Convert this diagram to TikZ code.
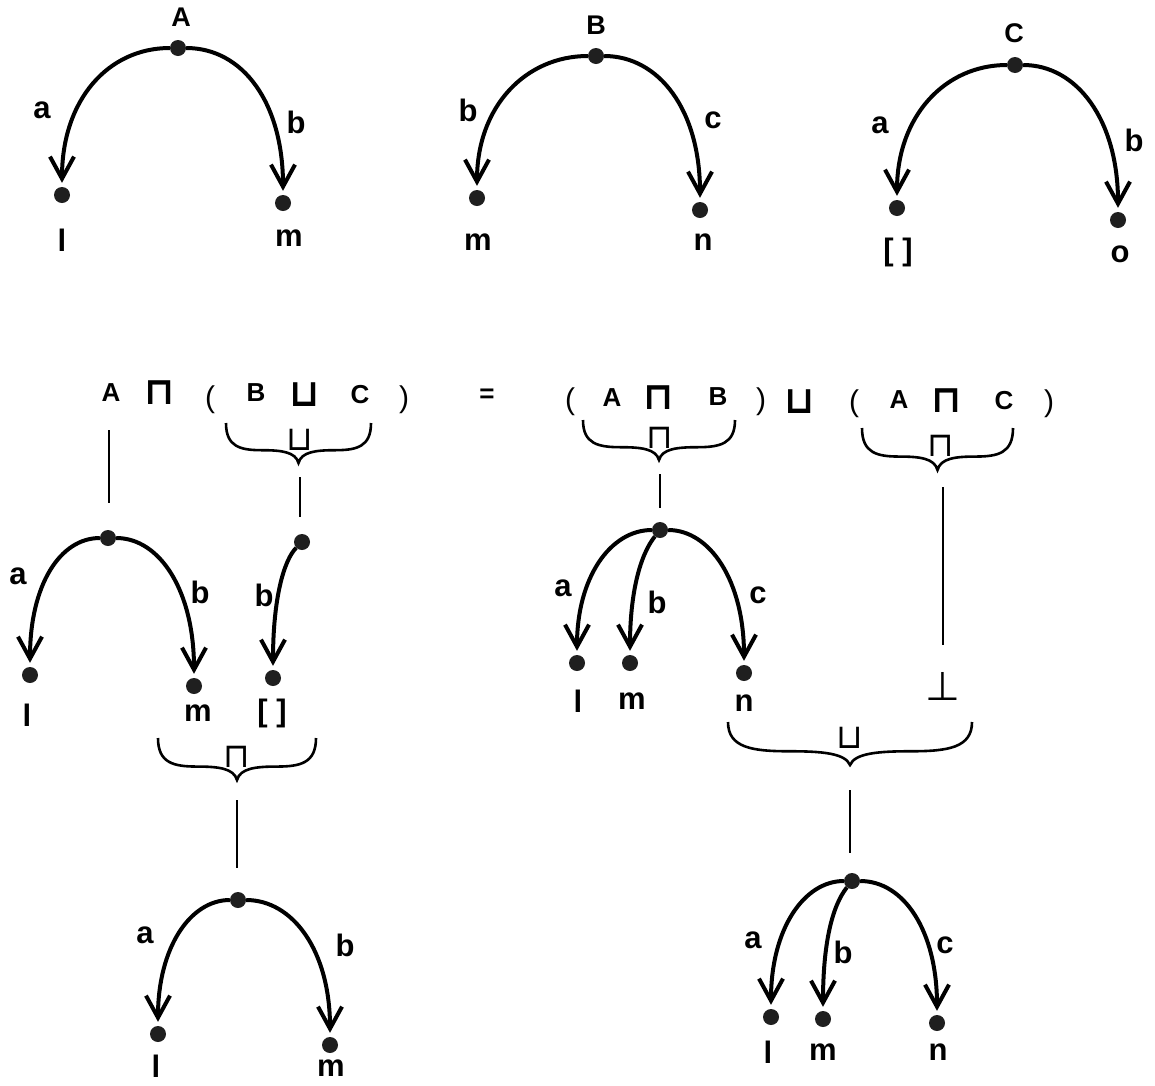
\documentclass[tikz,border=0pt]{standalone}
\usepackage{fontspec}
\setmainfont{Liberation Sans}
\newfontfamily\opfont{DejaVu Sans}
\usetikzlibrary{arrows.meta}

% curly brace opening upwards: x1, x2, top y, tip y
\newcommand\curlybrace[4]{%
  \pgfmathsetmacro\bW{#2-#1}%
  \pgfmathsetmacro\bM{(#1+#2)/2}%
  \pgfmathsetmacro\bH{#4-#3}%
  \draw[bracepath] (#1,#3)
    .. controls (#1,{#3+0.6*\bH}) and ({#1+0.1*\bW},{#3+0.68*\bH}) .. ({#1+0.25*\bW},{#3+0.68*\bH})
    .. controls ({\bM-0.12*\bW},{#3+0.68*\bH}) and ({\bM-0.02*\bW},{#3+0.72*\bH}) .. (\bM,#4)
    .. controls ({\bM+0.02*\bW},{#3+0.72*\bH}) and ({\bM+0.12*\bW},{#3+0.68*\bH}) .. ({#2-0.25*\bW},{#3+0.68*\bH})
    .. controls ({#2-0.1*\bW},{#3+0.68*\bH}) and (#2,{#3+0.6*\bH}) .. (#2,#3);
}

\begin{document}
\begin{tikzpicture}[x=1pt,y=-1pt,
  vdot/.style={circle,fill=black!88,inner sep=0pt,minimum size=16pt},
  lbl/.style={inner sep=0pt,font=\fontsize{31}{34}\selectfont\bfseries},
  captext/.style={inner sep=0pt,font=\fontsize{27}{30}\selectfont\bfseries},
  frm/.style={inner sep=0pt,font=\fontsize{26}{30}\selectfont\bfseries},
  paren/.style={inner sep=0pt,font=\fontsize{30}{34}\selectfont},
  opbig/.style={inner sep=0pt,font=\opfont\bfseries\fontsize{38}{42}\selectfont},
  opsmall/.style={inner sep=0pt,font=\opfont\fontsize{34}{38}\selectfont},
  bottext/.style={inner sep=0pt,font=\opfont\fontsize{40}{42}\selectfont},
  arrowedge/.style={line width=4pt,-{Straight Barb[length=22pt,width=24pt]},shorten >=4pt},
  conn/.style={line width=2.2pt},
  bracepath/.style={line width=2.6pt}]
\fill[white] (0,0) rectangle (1155,1085);
\useasboundingbox (0,0) rectangle (1155,1085);

% ---------- graph A ----------
\node[captext] (tA) at (181,17) {A};
\node[vdot] (rA) at (178,48) {};
\node[vdot] (lA) at (62,195) {};
\node[vdot] (mA) at (283,203) {};
\node[lbl] (tlA) at (62,240) {l};
\node[lbl] (tmA) at (289,238) {m};
\draw[arrowedge] (rA) .. controls +(-70,0) and +(0,-95) .. (lA);
\draw[arrowedge] (rA) .. controls +(65,0) and +(0,-100) .. (mA);
\node[lbl] (eaA) at (42,110) {a};
\node[lbl] (ebA) at (296,122) {b};

% ---------- graph B ----------
\node[captext] (tB) at (596,25) {B};
\node[vdot] (rB) at (596,56) {};
\node[vdot] (mB) at (477,198) {};
\node[vdot] (nB) at (700,210) {};
\node[lbl] (tmB) at (478,242) {m};
\node[lbl] (tnB) at (703,242) {n};
\draw[arrowedge] (rB) .. controls +(-70,0) and +(0,-92) .. (mB);
\draw[arrowedge] (rB) .. controls +(63,0) and +(0,-100) .. (nB);
\node[lbl] (ebB) at (468,110) {b};
\node[lbl] (ecB) at (713,120) {c};

% ---------- graph C ----------
\node[captext] (tC) at (1014,33) {C};
\node[vdot] (rC) at (1015,65) {};
\node[vdot] (eC) at (897,208) {};
\node[vdot] (oC) at (1118,220) {};
\node[lbl] (teC) at (898,252) {[ ]};
\node[lbl] (toC) at (1120,254) {o};
\draw[arrowedge] (rC) .. controls +(-70,0) and +(0,-92) .. (eC);
\draw[arrowedge] (rC) .. controls +(62,0) and +(0,-100) .. (oC);
\node[lbl] (eaC) at (880,125) {a};
\node[lbl] (ebC) at (1134,140) {b};

% ---------- formula: left side ----------
\node[frm] (fA) at (111,393) {A};
\node[opbig] (fO1) at (160,393) {⊓};
\node[paren] (fL) at (210,400) {(};
\node[frm] (fB) at (256,393) {B};
\node[opbig] (fO2) at (305,395) {⊔};
\node[frm] (fC) at (360,395) {C};
\node[paren] (fR) at (404,400) {)};
\node[frm] (eq) at (487,396) {=};

% ---------- formula: right side ----------
\node[paren] (gL) at (570,402) {(};
\node[frm] (gA) at (612,398) {A};
\node[opbig] (gO) at (659,398) {⊓};
\node[frm] (gB) at (718,397) {B};
\node[paren] (gR) at (761,402) {)};
\node[opbig] (hO) at (800,402) {⊔};
\node[paren] (hL) at (854,404) {(};
\node[frm] (hA) at (899,400) {A};
\node[opbig] (hO2) at (947,401) {⊓};
\node[frm] (hC) at (1004,401) {C};
\node[paren] (hR) at (1049,404) {)};

% ---------- braces ----------
\curlybrace{226}{371}{423}{463}
\node[opsmall] (s1) at (300,440) {⊔};
\curlybrace{583}{735}{420}{460}
\node[opsmall] (s2) at (660,438) {⊓};
\curlybrace{862}{1013}{428}{470}
\node[opsmall] (s3) at (941,446) {⊓};
\curlybrace{158}{316}{738}{780}
\node[opsmall] (s4) at (237,757) {⊓};
\curlybrace{728}{972}{722}{765}
\node[opsmall] (s5) at (850,738) {⊔};

% ---------- vertical connectors ----------
\coordinate (c1a) at (109,430); \coordinate (c1b) at (109,503);
\coordinate (c2a) at (300,477); \coordinate (c2b) at (300,517);
\coordinate (c3a) at (660,474); \coordinate (c3b) at (660,508);
\coordinate (c4a) at (943,487); \coordinate (c4b) at (943,645);
\coordinate (c5a) at (237,800); \coordinate (c5b) at (237,868);
\coordinate (c6a) at (850,790); \coordinate (c6b) at (850,853);
\draw[conn] (c1a) -- (c1b);
\draw[conn] (c2a) -- (c2b);
\draw[conn] (c3a) -- (c3b);
\draw[conn] (c4a) -- (c4b);
\draw[conn] (c5a) -- (c5b);
\draw[conn] (c6a) -- (c6b);
\node[bottext] (bot) at (943,686) {⊥};

% ---------- graph D : A ----------
\node[vdot] (rD) at (108,538) {};
\node[vdot] (lD) at (30,675) {};
\node[vdot] (mD) at (194,686) {};
\node[lbl] (tlD) at (27,715) {l};
\node[lbl] (tmD) at (198,713) {m};
\draw[arrowedge] (rD) .. controls +(-48,0) and +(0,-90) .. (lD);
\draw[arrowedge] (rD) .. controls +(52,0) and +(0,-95) .. (mD);
\node[lbl] (eaD) at (18,576) {a};
\node[lbl] (ebD) at (200,592) {b};

% ---------- graph E : B join C ----------
\node[vdot] (rE) at (302,542) {};
\node[vdot] (eE) at (273,678) {};
\node[lbl] (teE) at (272,713) {[ ]};
\draw[arrowedge] (rE) .. controls +(-18,18) and +(0,-80) .. (eE);
\node[lbl] (ebE) at (264,595) {b};

% ---------- graph F : A meet B ----------
\node[vdot] (rF) at (660,530) {};
\node[vdot] (lF) at (577,663) {};
\node[vdot] (mF) at (630,663) {};
\node[vdot] (nF) at (744,673) {};
\node[lbl] (tlF) at (578,701) {l};
\node[lbl] (tmF) at (632,701) {m};
\node[lbl] (tnF) at (744,703) {n};
\draw[arrowedge] (rF) .. controls +(-50,0) and +(0,-85) .. (lF);
\draw[arrowedge] (rF) .. controls +(-20,25) and +(0,-70) .. (mF);
\draw[arrowedge] (rF) .. controls +(50,0) and +(0,-92) .. (nF);
\node[lbl] (eaF) at (563,588) {a};
\node[lbl] (ebF) at (657,602) {b};
\node[lbl] (ecF) at (758,595) {c};

% ---------- graph G ----------
\node[vdot] (rG) at (238,900) {};
\node[vdot] (lG) at (158,1034) {};
\node[vdot] (mG) at (330,1045) {};
\node[lbl] (tlG) at (156,1066) {l};
\node[lbl] (tmG) at (331,1068) {m};
\draw[arrowedge] (rG) .. controls +(-48,0) and +(0,-86) .. (lG);
\draw[arrowedge] (rG) .. controls +(55,0) and +(0,-94) .. (mG);
\node[lbl] (eaG) at (145,935) {a};
\node[lbl] (ebG) at (345,945) {b};

% ---------- graph H ----------
\node[vdot] (rH) at (852,881) {};
\node[vdot] (lH) at (771,1017) {};
\node[vdot] (mH) at (823,1019) {};
\node[vdot] (nH) at (937,1023) {};
\node[lbl] (tlH) at (768,1052) {l};
\node[lbl] (tmH) at (823,1052) {m};
\node[lbl] (tnH) at (938,1052) {n};
\draw[arrowedge] (rH) .. controls +(-48,0) and +(0,-88) .. (lH);
\draw[arrowedge] (rH) .. controls +(-20,25) and +(0,-75) .. (mH);
\draw[arrowedge] (rH) .. controls +(52,0) and +(0,-92) .. (nH);
\node[lbl] (eaH) at (753,940) {a};
\node[lbl] (ebH) at (843,952) {b};
\node[lbl] (ecH) at (945,945) {c};
\end{tikzpicture}
\end{document}
